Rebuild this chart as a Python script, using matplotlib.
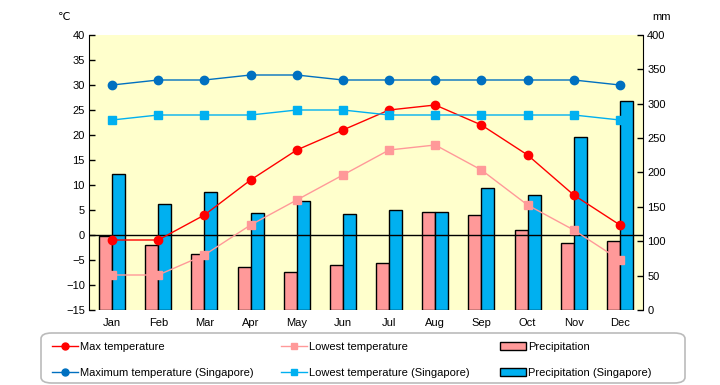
import matplotlib
matplotlib.use('Agg')
import matplotlib.pyplot as plt
import numpy as np
from matplotlib.lines import Line2D
from matplotlib.patches import Patch, FancyBboxPatch

plt.rcParams['font.family'] = ['Liberation Sans', 'DejaVu Sans']
plt.rcParams['font.size'] = 8

# data
months = ['Jan', 'Feb', 'Mar', 'Apr', 'May', 'Jun', 'Jul', 'Aug', 'Sep', 'Oct', 'Nov', 'Dec']
max_temp = [-1, -1, 4, 11, 17, 21, 25, 26, 22, 16, 8, 2]
low_temp = [-8, -8, -4, 2, 7, 12, 17, 18, 13, 6, 1, -5]
precip = [108, 94, 82, 62, 55, 66, 69, 142, 138, 116, 98, 100]
sg_max_temp = [30, 31, 31, 32, 32, 31, 31, 31, 31, 31, 31, 30]
sg_low_temp = [23, 24, 24, 24, 25, 25, 24, 24, 24, 24, 24, 23]
sg_precip = [198, 154, 171, 141, 158, 139, 145, 142, 177, 167, 252, 304]

c_red = '#FF0000'
c_pink = '#FF9999'
c_blue = '#0070C0'
c_cyan = '#00B0F0'

W, H = 720, 385
fig = plt.figure(figsize=(7.2, 3.85), dpi=100)
ax = fig.add_axes([89/W, 75/H, 554/W, 275/H])
ax2 = ax.twinx()

x = np.arange(len(months))
w = 0.28

# bars on the mm axis, behind the temperature lines
ax2.patch.set_visible(True)
ax2.set_facecolor('#FFFFCC')
ax2.bar(x - w/2, precip, w, color=c_pink, edgecolor='black', linewidth=1.0)
ax2.bar(x + w/2, sg_precip, w, color=c_cyan, edgecolor='black', linewidth=1.0)
ax2.set_ylim(0, 400)
ax2.set_yticks(range(0, 401, 50))

ax.set_zorder(ax2.get_zorder() + 1)
ax.patch.set_visible(False)
ax.axhline(0, color='black', linewidth=1.0)
ax.plot(x, max_temp, color=c_red, marker='o', markersize=6, linewidth=1)
ax.plot(x, low_temp, color=c_pink, marker='s', markersize=6, linewidth=1)
ax.plot(x, sg_max_temp, color=c_blue, marker='o', markersize=6, linewidth=1)
ax.plot(x, sg_low_temp, color=c_cyan, marker='s', markersize=6, linewidth=1)
ax.set_ylim(-15, 40)
ax.set_yticks(range(-15, 41, 5))
ax.set_xlim(-0.5, 11.5)
ax.set_xticks(x)
ax.set_xticklabels(months)

for a in (ax, ax2):
    a.spines['top'].set_visible(False)
    a.spines['bottom'].set_visible(False)
    a.tick_params(axis='y', direction='in', length=4, width=1, pad=3)
    a.tick_params(axis='x', length=0, pad=6)
ax2.spines['left'].set_visible(False)
ax.spines['right'].set_visible(False)

fig.text(58/W, 1 - 17/H, '℃', ha='left', va='center', fontsize=8)
fig.text(662/W, 1 - 17/H, 'mm', ha='center', va='center', fontsize=8)

# legend frame
frame = FancyBboxPatch((41/W, 2/H), 644/W, 50/H, transform=fig.transFigure,
                       boxstyle='round,pad=0,rounding_size=0.015',
                       facecolor='white', edgecolor='#BBBBBB', linewidth=1.2)
fig.patches.append(frame)

legend_cols = [
    (52, [Line2D([], [], color=c_red, marker='o', markersize=5, linewidth=1),
          Line2D([], [], color=c_blue, marker='o', markersize=5, linewidth=1)],
     ['Max temperature', 'Maximum temperature (Singapore)']),
    (281, [Line2D([], [], color=c_pink, marker='s', markersize=5, linewidth=1),
           Line2D([], [], color=c_cyan, marker='s', markersize=5, linewidth=1)],
     ['Lowest temperature', 'Lowest temperature (Singapore)']),
    (500, [Patch(facecolor=c_pink, edgecolor='black'),
           Patch(facecolor=c_cyan, edgecolor='black')],
     ['Precipitation', 'Precipitation (Singapore)']),
]
for left, hs, ls in legend_cols:
    fig.legend(hs, ls, loc='upper left', bbox_to_anchor=(left/W, 1 - 342/H),
               frameon=False, handlelength=2.3, handletextpad=0.2,
               labelspacing=1.4, borderpad=0, borderaxespad=0, fontsize=8)

fig.savefig('out.png', dpi=100)
